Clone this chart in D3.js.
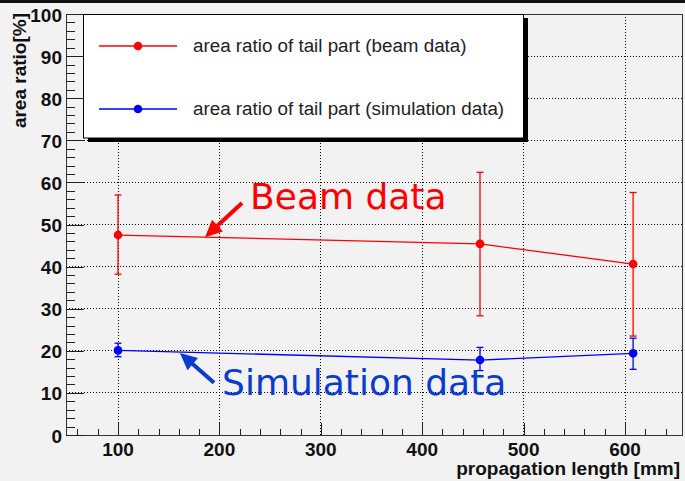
<!DOCTYPE html>
<html><head><meta charset="utf-8">
<script src="https://cdn.jsdelivr.net/npm/d3@7"></script>
<style>html,body{margin:0;padding:0;background:#f2f2f2;}svg{display:block;}</style>
</head><body>
<svg id="c" width="685" height="481"></svg>
<script>
// ---- data ----
const xValues = [100, 457, 608];
const beamValues = [47.5, 45.4, 40.6];
const beamErrLow = [38.2, 28.3, 23.5];
const beamErrHigh = [57.0, 62.4, 57.6];
const simValues = [20.1, 17.8, 19.4];
const simErrLow = [18.6, 15.3, 15.6];
const simErrHigh = [21.8, 20.8, 23.0];
const xTickLabels = [100, 200, 300, 400, 500, 600];
const yTickLabels = [0, 10, 20, 30, 40, 50, 60, 70, 80, 90, 100];
const seriesNames = ["area ratio of tail part (beam data)", "area ratio of tail part (simulation data)"];
const annotationTexts = ["Beam data", "Simulation data"];
// annotation anchor positions in data units: [textX, textY, arrowTailX, arrowTailY, arrowTipX, arrowTipY]
const annotationPos = [[230.2, 53.7, 222.3, 55.1, 185.8, 47.0], [202.6, 9.5, 194.7, 12.4, 161.1, 19.5]];

const svg = d3.select("#c");
const W = 685, H = 481;
const L = 66, R = 683, T = 14, B = 435;
const x = d3.scaleLinear().domain([48.7, 657.2]).range([L, R]);
const y = d3.scaleLinear().domain([0, 100]).range([B, T]);

svg.append("rect").attr("width", W).attr("height", H).attr("fill", "#f2f2f2");
svg.append("rect").attr("x", 0).attr("y", 0).attr("width", W).attr("height", 3).attr("fill", "#111");

// grid
const g = svg.append("g");
g.selectAll("line.gx").data(xTickLabels).join("line")
  .attr("x1", d => x(d)).attr("x2", d => x(d)).attr("y1", T).attr("y2", B)
  .attr("stroke", "#000").attr("stroke-width", 1).attr("stroke-dasharray", "1,2").attr("shape-rendering", "crispEdges");
g.selectAll("line.gy").data(yTickLabels.filter(d => d > 0 && d < 100)).join("line")
  .attr("x1", L).attr("x2", R).attr("y1", d => y(d)).attr("y2", d => y(d))
  .attr("stroke", "#000").attr("stroke-width", 1).attr("stroke-dasharray", "1,2").attr("shape-rendering", "crispEdges");

// frame
svg.append("rect").attr("x", L + 0.5).attr("y", T + 0.5).attr("width", R - L - 1).attr("height", B - T)
  .attr("fill", "none").attr("stroke", "#333").attr("stroke-width", 1);

// axes ticks (ROOT style: inside)
const tk = svg.append("g").attr("stroke", "#222").attr("stroke-width", 1).attr("shape-rendering", "crispEdges");
const xMinor = d3.range(60, 657, 20);
tk.selectAll("line.xt").data(xMinor).join("line")
  .attr("x1", d => Math.round(x(d)) + 0.5).attr("x2", d => Math.round(x(d)) + 0.5)
  .attr("y1", B).attr("y2", d => B - (d % 100 === 0 ? 12 : 6));
const yMinor = d3.range(0, 101, 2);
tk.selectAll("line.yt").data(yMinor).join("line")
  .attr("x1", L).attr("x2", d => L + (d % 10 === 0 ? 18 : 9))
  .attr("y1", d => Math.round(y(d)) + 0.5).attr("y2", d => Math.round(y(d)) + 0.5);

// tick labels
const lab = svg.append("g").attr("font-family", "Liberation Sans, Arial, sans-serif").attr("font-weight", "bold").attr("font-size", 19).attr("fill", "#111");
lab.selectAll("text.xl").data(xTickLabels).join("text")
  .attr("x", d => x(d)).attr("y", 456).attr("text-anchor", "middle").text(d => d);
lab.selectAll("text.yl").data(yTickLabels).join("text")
  .attr("x", 62).attr("y", d => y(d) + 7.5).attr("text-anchor", "end").text(d => d);
lab.append("text").attr("x", 680).attr("y", 475).attr("text-anchor", "end").text("propagation length [mm]");
lab.append("text").attr("transform", "translate(25.5,13) rotate(-90)").attr("text-anchor", "end").text("area ratio[%]");

// series
function drawSeries(vals, lo, hi, color) {
  const sg = svg.append("g");
  const pts = xValues.map((xv, i) => [xv, vals[i], lo[i], hi[i]]);
  sg.append("path").datum(pts)
    .attr("d", d3.line().x(d => x(d[0])).y(d => y(d[1])))
    .attr("fill", "none").attr("stroke", color).attr("stroke-width", 1.3);
  sg.selectAll("line.eb").data(pts).join("line")
    .attr("x1", d => x(d[0])).attr("x2", d => x(d[0])).attr("y1", d => y(d[2])).attr("y2", d => y(d[3]))
    .attr("stroke", color).attr("stroke-width", 1.3);
  sg.selectAll("line.c1").data(pts).join("line")
    .attr("x1", d => x(d[0]) - 3.5).attr("x2", d => x(d[0]) + 3.5).attr("y1", d => y(d[2])).attr("y2", d => y(d[2]))
    .attr("stroke", color).attr("stroke-width", 1.3);
  sg.selectAll("line.c2").data(pts).join("line")
    .attr("x1", d => x(d[0]) - 3.5).attr("x2", d => x(d[0]) + 3.5).attr("y1", d => y(d[3])).attr("y2", d => y(d[3]))
    .attr("stroke", color).attr("stroke-width", 1.3);
  sg.selectAll("circle").data(pts).join("circle")
    .attr("cx", d => x(d[0])).attr("cy", d => y(d[1])).attr("r", 4.3).attr("fill", color);
}
drawSeries(beamValues, beamErrLow, beamErrHigh, "#ff0000");
drawSeries(simValues, simErrLow, simErrHigh, "#0000ff");

// legend
const lg = svg.append("g");
lg.append("rect").attr("x", 88).attr("y", 138).attr("width", 440).attr("height", 4).attr("fill", "#000");
lg.append("rect").attr("x", 524).attr("y", 18).attr("width", 4).attr("height", 124).attr("fill", "#000");
lg.append("rect").attr("x", 83.5).attr("y", 14.5).attr("width", 440).attr("height", 123.5).attr("fill", "#fff").attr("stroke", "#000").attr("stroke-width", 1);
const legColors = ["#ff0000", "#0000ff"];
const legY = [46, 109];
seriesNames.forEach((name, i) => {
  lg.append("line").attr("x1", 99).attr("x2", 177).attr("y1", legY[i]).attr("y2", legY[i]).attr("stroke", legColors[i]).attr("stroke-width", 1.3);
  lg.append("circle").attr("cx", 138).attr("cy", legY[i]).attr("r", 4.3).attr("fill", legColors[i]);
  lg.append("text").attr("x", 193).attr("y", legY[i] + 6).attr("font-family", "Liberation Sans, Arial, sans-serif")
    .attr("font-size", 18.8).attr("fill", "#222").text(name);
});

// annotations
const annColors = ["#ff0000", "#0a3cd2"];
annotationTexts.forEach((t, i) => {
  const p = annotationPos[i];
  const c = annColors[i];
  svg.append("text").attr("x", x(p[0])).attr("y", y(p[1])).attr("font-family", "DejaVu Sans, sans-serif")
    .attr("font-size", 36).attr("fill", c).text(t);
  const tx = x(p[2]), ty = y(p[3]), hx = x(p[4]), hy = y(p[5]);
  const dx = hx - tx, dy = hy - ty, len = Math.hypot(dx, dy);
  const ux = dx / len, uy = dy / len;
  const hl = 17, hw = 8;
  const bx = hx - ux * hl, by = hy - uy * hl;
  svg.append("line").attr("x1", tx).attr("y1", ty).attr("x2", bx + ux * 2).attr("y2", by + uy * 2)
    .attr("stroke", c).attr("stroke-width", 4);
  svg.append("path").attr("d", `M${hx},${hy}L${bx - uy * hw},${by + ux * hw}L${bx + uy * hw},${by - ux * hw}Z`).attr("fill", c);
});
</script>
</body></html>
